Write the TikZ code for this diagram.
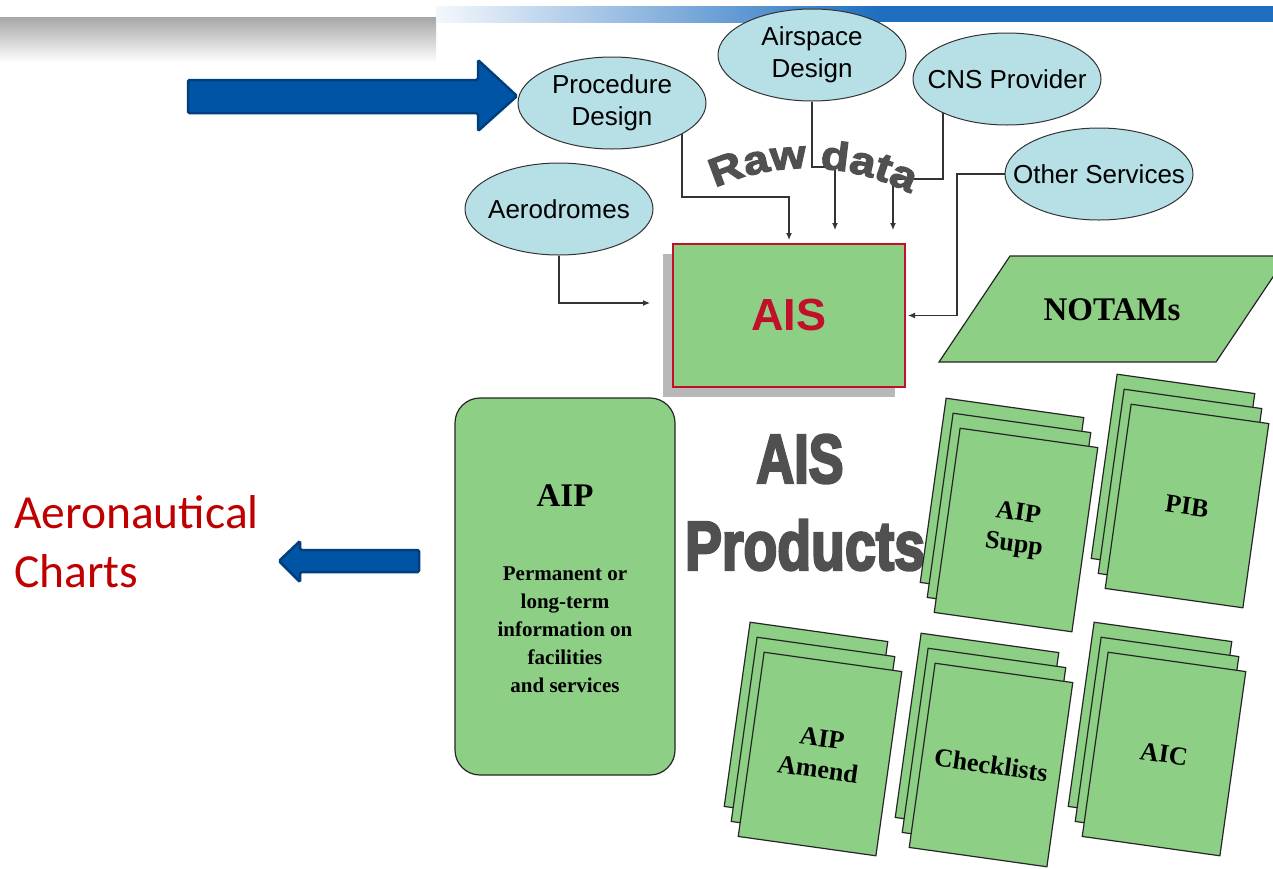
\documentclass[tikz,border=0pt]{standalone}
\usepackage{fontspec}
\usepackage{graphicx}
\setmainfont{Liberation Sans}
\newfontfamily\serifbold{Liberation Serif}
\newfontfamily\calfont{Carlito}
\newfontfamily\wordart[FakeStretch=1.15,FakeBold=3]{Liberation Sans}
\newfontfamily\heavyfont[FakeBold=4]{Liberation Sans}
\usepackage{xcolor}
\usetikzlibrary{arrows.meta,positioning,calc,shapes.geometric,backgrounds,shadows,decorations.text}

\definecolor{aisgreen}{RGB}{142,207,134}
\definecolor{srcblue}{RGB}{183,224,230}
\definecolor{aisred}{RGB}{192,16,42}
\definecolor{arrowblue}{RGB}{0,84,166}
\definecolor{arrowedge}{RGB}{0,62,126}
\definecolor{chartred}{RGB}{192,0,0}
\definecolor{wordgray}{RGB}{80,80,80}
\definecolor{barblue}{RGB}{30,110,192}

\begin{document}
\begin{tikzpicture}[x=1pt,y=-1pt,
  every node/.style={font=\fontsize{26}{32}\selectfont},
  src/.style={ellipse,draw=black!80,line width=1pt,fill=srcblue,minimum width=188pt,minimum height=92pt,
    inner xsep=-25pt,inner ysep=-8pt,align=center},
  feed/.style={draw=black!80,line width=1.2pt,-{Latex[length=7pt,width=6pt]}},
  doc/.style={draw=black!85,line width=1.2pt,fill=aisgreen},
  docpage/.style={doc,minimum width=139pt,minimum height=186pt,rotate=-8,inner sep=0pt,align=center,
    font=\serifbold\bfseries\fontsize{26}{31}\selectfont},
  aisbox/.style={draw=aisred,line width=2pt,fill=aisgreen,minimum width=232pt,minimum height=143pt,
    text=aisred,font=\bfseries\fontsize{45}{45}\selectfont,
    drop shadow={shadow xshift=-10pt,shadow yshift=-10pt,fill=black!28,opacity=1}},
  prodtext/.style={text=wordgray,font=\heavyfont\bfseries,inner sep=0pt},
  charttext/.style={text=chartred,font=\calfont\fontsize{47.5}{47.5}\selectfont,inner sep=0pt,anchor=base west},
  bigarrow/.style={draw=arrowedge,fill=arrowblue,line width=2.5pt,rounded corners=1.5pt}]
 \useasboundingbox (0,0) rectangle (1273,868);
 \begin{pgfonlayer}{background}
  \fill[white] (0,0) rectangle (1273,868);
 \end{pgfonlayer}

 % header bars
 \shade[top color=black!35,bottom color=white] (0,17) rectangle (436,62);
 \shade[left color=barblue!5,right color=barblue] (436,6) rectangle (880,22);
 \fill[barblue] (880,6) rectangle (1273,22);

 % blue arrows
 \draw[bigarrow] (188,80) -- (478,80) -- (478,60) -- (517,96) -- (478,131) -- (478,113) -- (188,113) -- cycle;
 \draw[bigarrow] (419,550) -- (300,550) -- (300,541) -- (279,561) -- (300,582) -- (300,572) -- (419,572) -- cycle;
 \node[charttext] (chart1) at (14,528) {Aeronautical};
 \node[charttext] (chart2) at (14,587) {Charts};

 % data sources
 \node[src] (proc)  at (612,103) {Procedure\\Design};
 \node[src] (airsp) at (812,55)  {Airspace\\Design};
 \node[src] (cns)   at (1007,79) {CNS Provider};
 \node[src] (other) at (1099,174) {Other Services};
 \node[src] (aero)  at (559,209) {Aerodromes};

 \node[aisbox] (ais) at (789,315.5) {AIS};

 \coordinate (pbend) at (682,197);
 \coordinate (abend) at (835,167);
 \coordinate (ain) at (835,230);
 \coordinate (cbend) at (943,179);
 \coordinate (cin) at (893,230);
 \coordinate (obend) at (957,174);
 \coordinate (aeroin) at (650,303);
 \begin{pgfonlayer}{background}
  \draw[feed] (proc.center -| pbend) -- (pbend) -| ([yshift=3pt]ais.north);
  \draw[feed] (airsp) |- (abend) -- (ain);
  \draw[feed] (cns.center -| cbend) -- (cbend) -| (cin);
  \draw[feed] (other) -- (obend) |- ([xshift=2pt]ais.east);
  \draw[feed] (aero) |- (aeroin);
 \end{pgfonlayer}

 \path[decorate,decoration={text along path,text align=center,
   text={|\wordart\bfseries\fontsize{40}{40}\selectfont\color{wordgray}|Raw data}}]
   (700,196) .. controls (765,158) and (855,158) .. (925,202);

 % products
 \node[doc,rounded corners=25pt,minimum width=220pt,minimum height=377pt] (aip) at (565,586.5) {};
 \node[font=\serifbold\bfseries\fontsize{33}{33}\selectfont] (aiptitle) at (565,496) {AIP};
 \node[font=\serifbold\bfseries\fontsize{21}{28}\selectfont,align=center] (aipbody) at (565,630)
   {Permanent or\\long-term\\information on\\facilities\\and services};

 \node[prodtext] (prodA) at (800,459) {\resizebox{87pt}{48pt}{AIS}};
 \node[prodtext] (prodB) at (805,545) {\resizebox{240pt}{50pt}{Products}};

 \begin{scope}
  \clip (0,0) rectangle (1273,868);
  \draw[doc] (939,362) -- (1010,256) -- (1287,256) -- (1216,362) -- cycle;
  \foreach \nm/\px/\py/\txt in {supp/1016/530/{AIP\\Supp},pib/1187/506/PIB,amend/820/754/{AIP\\Amend},
      check/991/765/Checklists,aic/1164/754/AIC}{
   \node[docpage] (\nm-3) at (\px-14,\py-30) {};
   \node[docpage] (\nm-2) at (\px-7,\py-15) {};
   \node[docpage] (\nm-1) at (\px,\py) {\txt};
  }
 \end{scope}
 \node[font=\serifbold\bfseries\fontsize{33}{33}\selectfont] (notams) at (1112,310) {NOTAMs};
\end{tikzpicture}
\end{document}
